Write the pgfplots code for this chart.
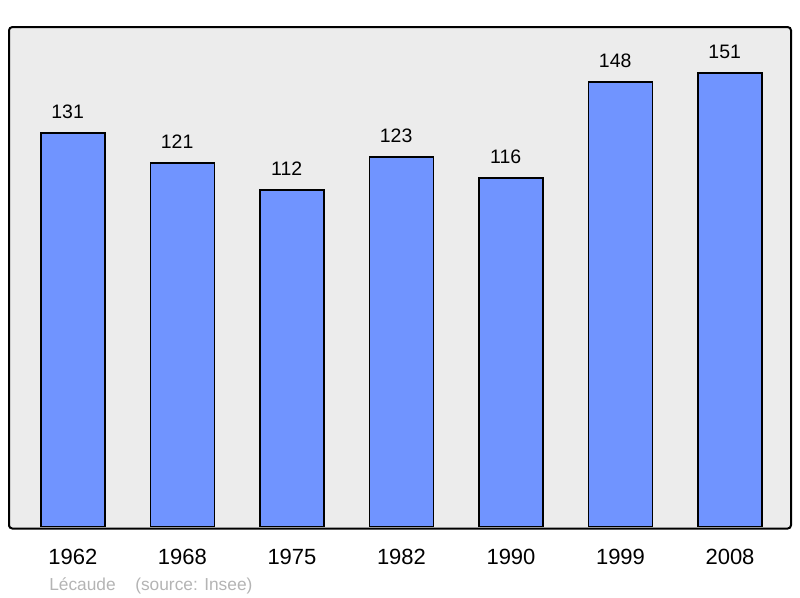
\documentclass[border=0pt]{standalone}
\usepackage{pgfplots}
\pgfplotsset{compat=1.18}
\usepackage{fontspec}
\setmainfont{Liberation Sans}
\definecolor{barblue}{RGB}{112,148,255}
\definecolor{panel}{RGB}{236,236,236}
\definecolor{srcgray}{RGB}{180,180,180}

\begin{document}
\begin{tikzpicture}
\path[use as bounding box] (0,0) rectangle (600pt,448.5pt);
\begin{axis}[
    at={(6.75pt,52.1pt)},
    anchor=south west,
    scale only axis,
    width=586.5pt,
    height=376.1pt,
    ybar,
    bar width=48pt,
    xmin=-0.584, xmax=6.557,
    ymin=-0.7, ymax=166.3,
    xtick={0,1,2,3,4,5,6},
    xticklabels={1962,1968,1975,1982,1990,1999,2008},
    ytick=\empty,
    major tick length=0pt,
    axis background/.style={fill=panel},
    axis line style={line width=1.5pt, rounded corners=2.5pt},
    xticklabel style={font=\fontsize{16.5}{18}\selectfont, inner sep=0pt, anchor=north, yshift=-15pt},
    nodes near coords,
    /pgf/number format/assume math mode=true,
    nodes near coords style={font=\fontsize{14.6}{16}\selectfont, inner sep=0pt, anchor=south, yshift=10.5pt, xshift=-4pt},
]
\addplot[fill=barblue, draw=black, line width=1pt] coordinates {
    (0,131) (1,121) (2,112) (3,123) (4,116) (5,148) (6,151)
};
\end{axis}
\node[anchor=base west, inner sep=0pt, text=srcgray, font=\fontsize{13}{15}\selectfont] at (36.75pt,5.5pt) {Lécaude};
\node[anchor=base west, inner sep=0pt, text=srcgray, font=\fontsize{13}{15}\selectfont] at (101.25pt,5.5pt) {(source: Insee)};
\end{tikzpicture}
\end{document}
